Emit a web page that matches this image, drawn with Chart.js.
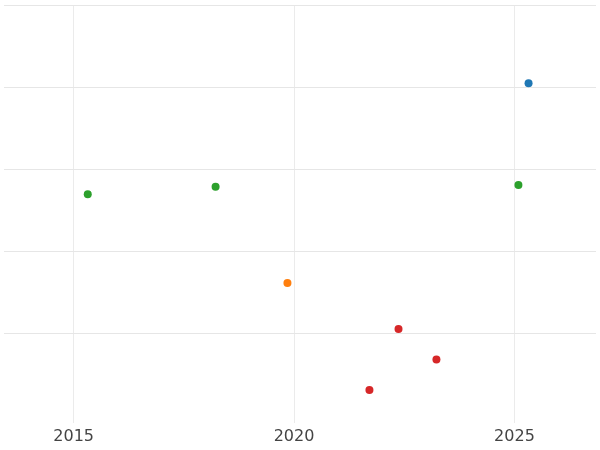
<!DOCTYPE html>
<html>
<head>
<script src="https://cdn.jsdelivr.net/npm/chart.js@4"></script>
<style>body{margin:0}#wrap{width:600px;height:450px}</style>
</head>
<body>
<div id="wrap"><canvas id="myChart"></canvas></div>
<script>
var blueX=[2025.32], blueY=[4.05];
var greenX=[2015.32,2018.22,2025.09], greenY=[2.70,2.79,2.81];
var orangeX=[2019.85], orangeY=[1.62];
var redX=[2022.37,2023.23,2021.71], redY=[1.06,0.69,0.32];
var xTicks=[2015,2020,2025];
var yTicks=[1,2,3,4,5];

function pts(xs,ys){return xs.map(function(x,i){return {x:x,y:ys[i]};});}

var ctx=document.querySelector("#myChart").getContext("2d");
new Chart(ctx,{
  type:"scatter",
  data:{
    datasets:[
      {data:pts(blueX,blueY),backgroundColor:'#1f77b4'},
      {data:pts(greenX,greenY),backgroundColor:'#2ca02c'},
      {data:pts(orangeX,orangeY),backgroundColor:'#ff7f0e'},
      {data:pts(redX,redY),backgroundColor:'#d62728'}
    ]
  },
  options:{
    responsive:true,
    maintainAspectRatio:false,
    animation:false,
    layout:{padding:{top:5,left:0,right:0,bottom:0}},
    elements:{point:{radius:4,borderWidth:0,hoverRadius:4}},
    plugins:{legend:{display:false},tooltip:{enabled:false}},
    scales:{
      x:{
        type:'linear',min:2013.42,max:2026.85,
        afterBuildTicks:function(axis){axis.ticks=xTicks.map(function(v){return {value:v};});},
        grid:{color:'#ebebeb',drawTicks:false},
        border:{display:false},
        ticks:{color:'#444',padding:4,font:{family:'DejaVu Sans',size:16},autoSkip:false,maxRotation:0,
          callback:function(v){return String(v);}}
      },
      y:{
        min:-0.08,max:5,
        afterBuildTicks:function(axis){axis.ticks=yTicks.map(function(v){return {value:v};});},
        grid:{color:'#e6e6e6',drawTicks:false},
        border:{display:false},
        ticks:{display:false}
      }
    }
  }
});
</script>
</body>
</html>
